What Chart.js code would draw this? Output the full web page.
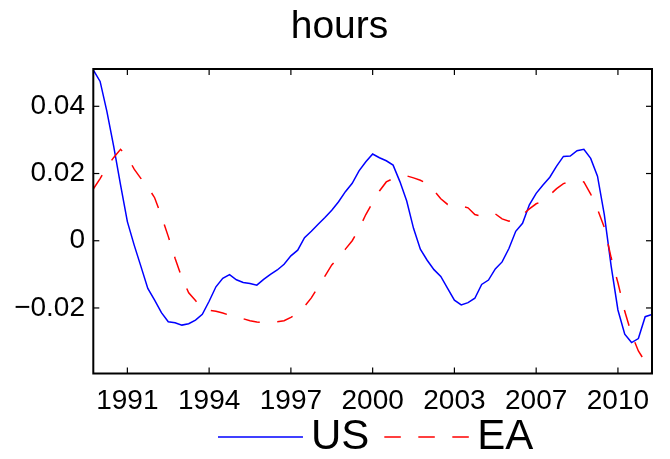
<!DOCTYPE html>
<html lang="en">
<head>
<meta charset="UTF-8">
<title>hours</title>
<script src="https://cdn.jsdelivr.net/npm/chart.js"></script>
<style>
  body, html { margin: 0; padding: 0; background: #fff; }
</style>
</head>
<body>
<canvas id="hoursChart" width="670" height="459"></canvas>
<script>
const usHours = [
  0.0508, 0.0474, 0.0384, 0.0280, 0.0166, 0.0057, -0.0013, -0.0077, -0.0142, -0.0177,
  -0.0214, -0.0241, -0.0244, -0.0251, -0.0247, -0.0236, -0.0219, -0.0180, -0.0137, -0.0112,
  -0.0101, -0.0116, -0.0124, -0.0127, -0.0132, -0.0115, -0.0100, -0.0087, -0.0070, -0.0045,
  -0.0028, 0.0009, 0.0028, 0.0049, 0.0069, 0.0091, 0.0116, 0.0146, 0.0171, 0.0208,
  0.0235, 0.0258, 0.0247, 0.0238, 0.0225, 0.0176, 0.0118, 0.0037, -0.0025, -0.0058,
  -0.0086, -0.0106, -0.0142, -0.0177, -0.0191, -0.0184, -0.0171, -0.0130, -0.0117, -0.0084,
  -0.0063, -0.0023, 0.0028, 0.0052, 0.0107, 0.0141, 0.0166, 0.0189, 0.0222, 0.0251,
  0.0252, 0.0268, 0.0272, 0.0245, 0.0192, 0.0078, -0.0075, -0.0206, -0.0278, -0.0303,
  -0.0291, -0.0226, -0.0219
];
const eaHours = [
  0.0154, 0.0185, 0.0220, 0.0248, 0.0272, 0.0250, 0.0213, 0.0185, 0.0160, 0.0128,
  0.0074, 0.0013, -0.0052, -0.0110, -0.0155, -0.0178, -0.0200, -0.0207, -0.0210, -0.0215,
  -0.0222, -0.0229, -0.0232, -0.0238, -0.0242, -0.0243, -0.0242, -0.0241, -0.0238, -0.0228,
  -0.0216, -0.0195, -0.0170, -0.0137, -0.0105, -0.0072, -0.0050, -0.0025, 0.0000, 0.0035,
  0.0078, 0.0114, 0.0148, 0.0175, 0.0185, 0.0188, 0.0193, 0.0187, 0.0180, 0.0170,
  0.0149, 0.0125, 0.0108, 0.0104, 0.0104, 0.0098, 0.0078, 0.0073, 0.0080, 0.0080,
  0.0065, 0.0058, 0.0068, 0.0077, 0.0095, 0.0110, 0.0118, 0.0136, 0.0155, 0.0170,
  0.0175, 0.0177, 0.0175, 0.0139, 0.0094, 0.0040, -0.0050, -0.0125, -0.0210, -0.0278,
  -0.0328, -0.0360, -0.0395
];
const seriesNames = ['US', 'EA'];
const xTickPos = [5, 17, 29, 41, 53, 65, 77];
const xTickLabels = ['1991', '1994', '1997', '2000', '2003', '2007', '2010'];
const yTickValues = [-0.02, 0, 0.02, 0.04];
const yTickLabels = ['\u22120.02', '0', '0.02', '0.04'];

const FONT = "'Liberation Sans', Arial, Helvetica, sans-serif";
Chart.defaults.font.family = FONT;
Chart.defaults.color = '#000';

function toPoints(arr) {
  return arr.map((v, i) => ({ x: i, y: v }));
}

// box round the axes, inward ticks, and the legend under the plot
const frameAndLegend = {
  id: 'frameAndLegend',
  afterDraw(chart) {
    const { ctx, chartArea: a, scales } = chart;
    const seg = (x1, y1, x2, y2) => {
      ctx.beginPath(); ctx.moveTo(x1, y1); ctx.lineTo(x2, y2); ctx.stroke();
    };
    ctx.save();
    ctx.strokeStyle = '#000';
    ctx.lineWidth = 1.2;
    const t = 6;
    xTickPos.forEach(v => {
      const px = scales.x.getPixelForValue(v);
      seg(px, a.bottom, px, a.bottom - t);
      seg(px, a.top, px, a.top + t);
    });
    yTickValues.forEach(v => {
      const py = scales.y.getPixelForValue(v);
      seg(a.left, py, a.left + t, py);
      seg(a.right, py, a.right - t, py);
    });
    ctx.lineWidth = 2;
    ctx.strokeRect(a.left, a.top, a.right - a.left, a.bottom - a.top);

    // legend
    ctx.font = '42px ' + FONT;
    ctx.textBaseline = 'middle';
    ctx.textAlign = 'left';
    ctx.fillStyle = '#000';
    const ly = a.bottom + 63.5;
    const lineLen = 85, textGap = 8, itemGap = 15;
    const widths = seriesNames.map(n => ctx.measureText(n).width);
    const total = 2 * lineLen + 2 * textGap + widths[0] + widths[1] + itemGap;
    let x = (a.left + a.right) / 2 + 3 - total / 2;
    chart.data.datasets.forEach((ds, k) => {
      ctx.strokeStyle = ds.borderColor;
      ctx.lineWidth = ds.borderWidth;
      ctx.setLineDash(ds.borderDash || []);
      seg(x, ly, x + lineLen, ly);
      ctx.setLineDash([]);
      x += lineLen + textGap;
      ctx.fillText(ds.label, x, ly);
      x += widths[k] + itemGap;
    });
    ctx.restore();
  }
};

const ctx = document.getElementById('hoursChart').getContext('2d');
new Chart(ctx, {
  type: 'line',
  data: {
    datasets: [
      {
        label: seriesNames[0],
        data: toPoints(usHours),
        borderColor: '#0000ff',
        borderWidth: 1.5,
        pointRadius: 0,
        fill: false,
        order: 1
      },
      {
        label: seriesNames[1],
        data: toPoints(eaHours),
        borderColor: '#ff0000',
        borderWidth: 1.5,
        borderDash: [16.5, 17.5],
        pointRadius: 0,
        fill: false,
        order: 0
      }
    ]
  },
  options: {
    responsive: false,
    animation: false,
    // right padding is negative so the title sits slightly right of the canvas centre,
    // the empty right axis below keeps the plot's right edge at 652px
    layout: { padding: { left: 0, right: -9, top: 0, bottom: 0 } },
    plugins: {
      legend: { display: false },
      tooltip: { enabled: false },
      title: {
        display: true,
        text: 'hours',
        color: '#000',
        font: { size: 39, weight: 'normal' },
        padding: { top: 3.8, bottom: 18.4 }
      }
    },
    scales: {
      x: {
        type: 'linear',
        min: 0,
        max: usHours.length - 1,
        grid: { display: false, drawTicks: false },
        border: { display: false },
        afterBuildTicks: s => { s.ticks = xTickPos.map(v => ({ value: v })); },
        afterFit: s => { s.height = 85.5; },
        ticks: {
          autoSkip: false,
          maxRotation: 0,
          padding: 10.7,
          font: { size: 28 },
          callback: v => {
            const k = xTickPos.indexOf(v);
            return k >= 0 ? xTickLabels[k] : '';
          }
        }
      },
      y: {
        min: -0.0395,
        max: 0.0511,
        grid: { display: false, drawTicks: false },
        border: { display: false },
        afterBuildTicks: s => { s.ticks = yTickValues.map(v => ({ value: v })); },
        afterFit: s => { s.width = 93.3; },
        ticks: {
          padding: 8.3,
          font: { size: 28 },
          callback: v => {
            const k = yTickValues.indexOf(v);
            return k >= 0 ? yTickLabels[k] : '';
          }
        }
      },
      yRight: {
        position: 'right',
        grid: { display: false, drawTicks: false },
        border: { display: false },
        ticks: { display: false },
        afterFit: s => { s.width = 27; }
      }
    }
  },
  plugins: [frameAndLegend]
});
</script>
</body>
</html>
